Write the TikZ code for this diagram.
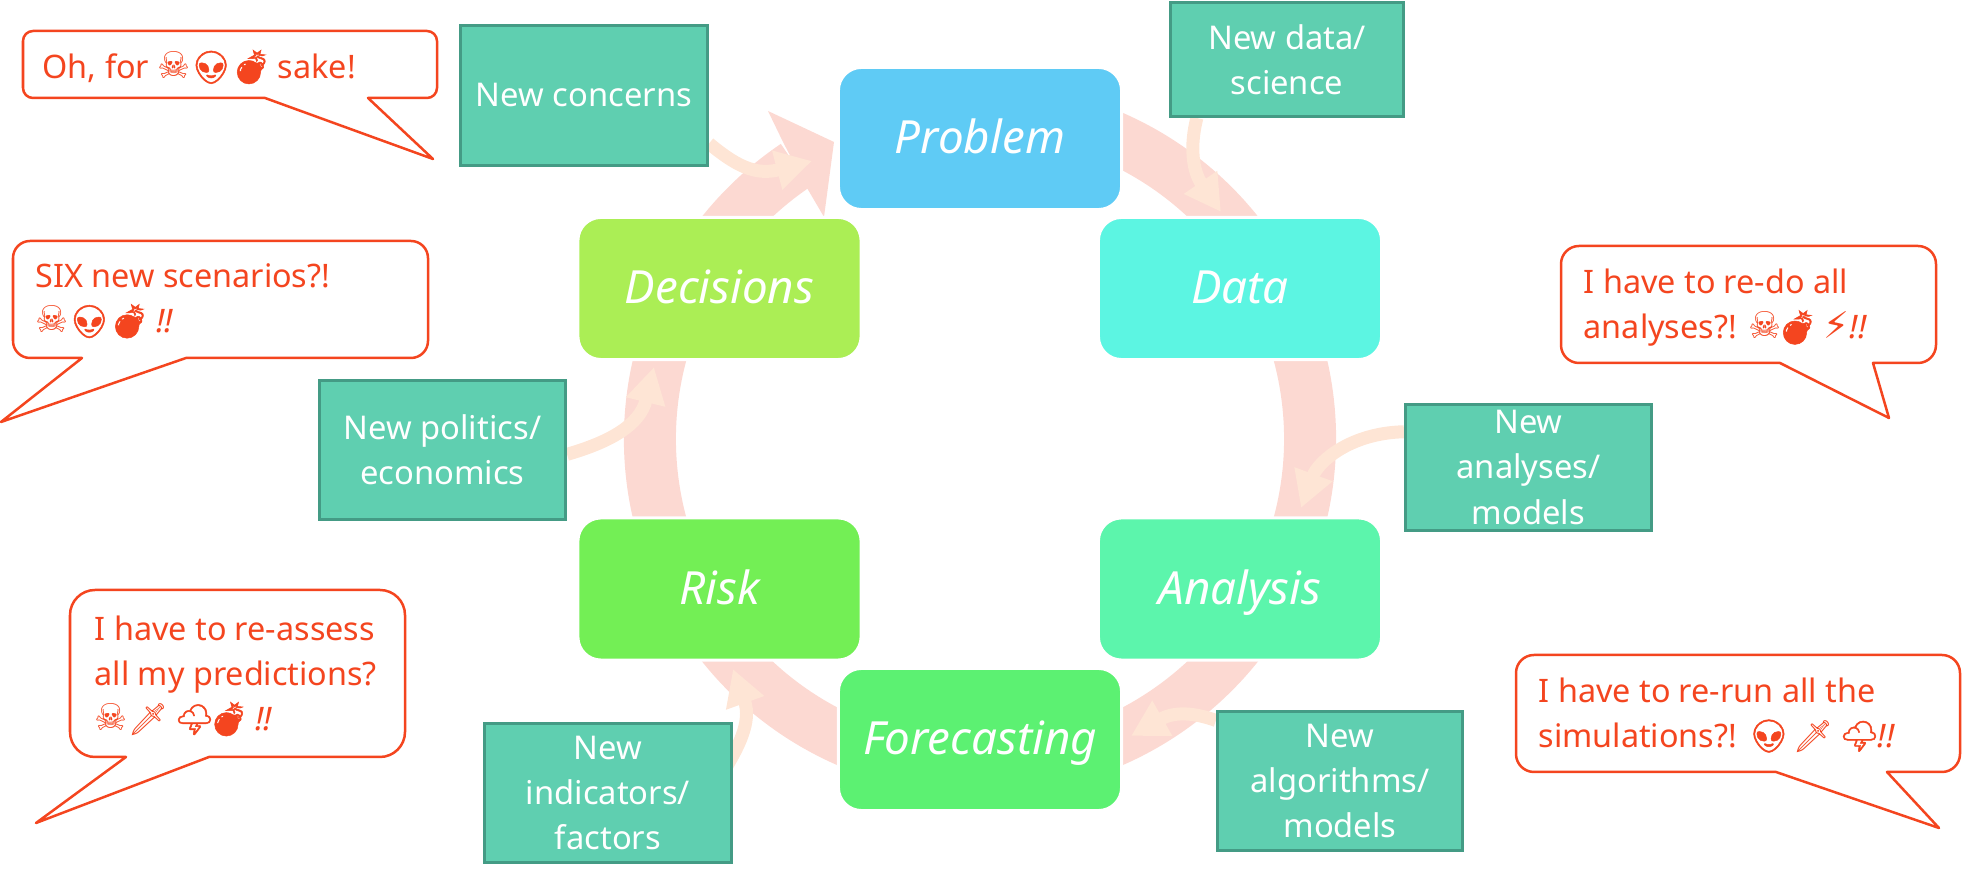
\documentclass[tikz,border=0pt]{standalone}
\usepackage{fontspec}
\setmainfont{Noto Sans}
\newfontfamily\iconfont[FakeBold=1.5]{Noto Emoji}
\newfontfamily\thinicons{Noto Emoji}
\newfontfamily\dejavuicons{DejaVu Sans}
\usetikzlibrary{arrows.meta,backgrounds}

\definecolor{alarmred}{HTML}{F4451F}
\definecolor{ringpink}{HTML}{FCD9D2}
\definecolor{creamarrow}{HTML}{FEE5D5}
\definecolor{tealfill}{HTML}{5FCFB0}
\definecolor{tealedge}{HTML}{449B85}

\newcommand{\iconskull}{{\dejavuicons\fontsize{10.5}{9}\selectfont ☠}}
\newcommand{\iconalien}{{\iconfont\fontsize{9.2}{9}\selectfont 👽}\kern-.05cm}
\newcommand{\iconbomb}{\kern-.05cm{\iconfont\fontsize{9.5}{9}\selectfont 💣}\kern-.03cm}
\newcommand{\icondagger}{{\thinicons\fontsize{9}{9}\selectfont 🗡}\kern-.02cm}
\newcommand{\iconstorm}{{\iconfont\fontsize{9}{9}\selectfont 🌩}\kern-.02cm}
\newcommand{\iconbolt}{{\dejavuicons\fontsize{10.5}{9}\selectfont ⚡}}

\tikzset{
  cyclebox/.style={draw=white,line width=.03cm,rounded corners=.23cm,text=white,
    minimum width=2.83cm,minimum height=1.42cm,inner sep=0pt,
    text height=.38cm,text depth=.07cm,
    font=\fontsize{13}{16}\selectfont\itshape},
  newbox/.style={draw=tealedge,fill=tealfill,line width=.03cm,text=white,align=center,
    inner sep=0pt,font=\fontsize{9.3}{12.8}\selectfont},
  newarrow/.style={draw=creamarrow,line width=.13cm,
    -{Triangle[length=.36cm,width=.38cm]}},
  speech/.style={draw=alarmred,line width=.025cm,fill=white,line join=round},
  speechtext/.style={text=alarmred,anchor=west,align=left,inner sep=0pt,
    font=\fontsize{9.2}{12.8}\selectfont},
}

\begin{document}
\begin{tikzpicture}[x=.01cm,y=-.01cm]
  \useasboundingbox (0,0) rectangle (1962,883);

  % the six steps
  \node [cyclebox,fill={rgb,255:red,95;green,203;blue,245}] (problem) at (980,138.5) {Problem};
  \node [cyclebox,fill={rgb,255:red,92;green,245;blue,226}] (data) at (1240,288.5) {Data};
  \node [cyclebox,fill={rgb,255:red,92;green,245;blue,172}] (analysis) at (1240,589) {Analysis};
  \node [cyclebox,fill={rgb,255:red,92;green,241;blue,114}] (forecasting) at (980,739.5) {Forecasting};
  \node [cyclebox,fill={rgb,255:red,115;green,239;blue,85}] (risk) at (719.5,589) {Risk};
  \node [cyclebox,fill={rgb,255:red,171;green,238;blue,85}] (decisions) at (719.5,288.5) {Decisions};

  % what keeps coming in
  \node [newbox,minimum width=2.47cm,minimum height=1.40cm] (concerns) at (584,95.5) {New concerns};
  \node [newbox,minimum width=2.33cm,minimum height=1.14cm] (newdata) at (1287,59.5) {New data/\\science};
  \node [newbox,minimum width=2.46cm,minimum height=1.26cm] (analyses) at (1528.5,467.5) {New\\analyses/\\models};
  \node [newbox,minimum width=2.45cm,minimum height=1.39cm] (algorithms) at (1340,781) {New\\algorithms/\\models};
  \node [newbox,minimum width=2.46cm,minimum height=1.39cm] (indicators) at (608,793) {New\\indicators/\\factors};
  \node [newbox,minimum width=2.46cm,minimum height=1.39cm] (politics) at (442.5,450) {New politics/\\economics};

  \coordinate (ringcentre) at (980,439);
  \coordinate (tipproblem) at (812,161);
  \coordinate (tipdata) at (1221,212);
  \coordinate (tipanalysis) at (1301,508);
  \coordinate (tipforecasting) at (1131,736);
  \coordinate (tiprisk) at (733,669);
  \coordinate (tipdecisions) at (654,367);

  \begin{scope}[on background layer]
    \draw [ringpink,line width=.52cm] (ringcentre) ++(-70:330) arc [start angle=-70,end angle=236,radius=330];
    \fill [ringpink] (783,142) -- (768,111) -- (834,142) -- (824,217) -- (807,188) -- cycle;
    \draw [newarrow] (concerns.-21) .. controls (735,165) and (755,176) .. (tipproblem);
    \draw [newarrow] (newdata.213) .. controls (1190,145) and (1192,170) .. (tipdata);
    \draw [newarrow] (analyses.164.5) .. controls (1350,433) and (1318,462) .. (tipanalysis);
    \draw [newarrow] (algorithms.154.6) .. controls (1195,713) and (1175,711) .. (tipforecasting);
    \draw [newarrow] ([xshift=-.1cm]indicators.9) .. controls (738,748) and (752,722) .. (tiprisk);
    \draw [newarrow] (politics.-2) .. controls (610,442) and (640,425) .. (tipdecisions);
  \end{scope}

  % speech bubbles
  \draw [speech,rounded corners=.1cm] (23,31) -- (437,31) -- (437,98) [sharp corners] -- (368,98) -- (433,159) -- (265,98) [rounded corners=.1cm] -- (23,98) -- cycle;
  \node [speechtext] (oh) at (42,67) {Oh, for \iconskull\iconalien\ \iconbomb\ sake!};

  \draw [speech,rounded corners=.17cm] (13,241) -- (428,241) -- (428,358) [sharp corners] -- (186,358) -- (1,422) -- (82,358) [rounded corners=.17cm] -- (13,358) -- cycle;
  \node [speechtext] (six) at (35,301) {SIX new scenarios?!\\\iconskull\iconalien\ \iconbomb\ \textit{!!}};

  \draw [speech,rounded corners=.18cm] (1561,246) -- (1936,246) -- (1936,363) [sharp corners] -- (1873,363) -- (1889,418) -- (1780,363) [rounded corners=.18cm] -- (1561,363) -- cycle;
  \node [speechtext] (redo) at (1583,308) {I have to re-do all\\analyses?! \iconskull\iconbomb\ \iconbolt\textit{!!}};

  \draw [speech,rounded corners=.25cm] (70,590) -- (405,590) -- (405,757) [sharp corners] -- (209,757) -- (36,823) -- (126,757) [rounded corners=.25cm] -- (70,757) -- cycle;
  \node [speechtext] (assess) at (94,676) {I have to re-assess\\all my predictions?\\\iconskull\icondagger\ \iconstorm\iconbomb\ \textit{!!}};

  \draw [speech,rounded corners=.18cm] (1516,655) -- (1960,655) -- (1960,772) [sharp corners] -- (1887,772) -- (1939,828) -- (1776,772) [rounded corners=.18cm] -- (1516,772) -- cycle;
  \node [speechtext] (rerun) at (1538,715) {I have to re-run all the\\simulations?! \iconalien\ \icondagger\ \iconstorm\textit{!!}};
\end{tikzpicture}
\end{document}
